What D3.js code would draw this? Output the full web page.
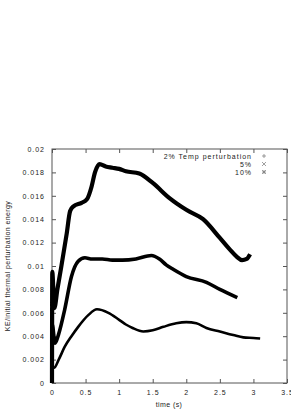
<!DOCTYPE html>
<html><head><meta charset="utf-8">
<script src="https://cdn.jsdelivr.net/npm/d3@7"></script>
<style>
html,body{margin:0;padding:0;background:#fff;}
svg text{font-family:"Liberation Sans",Arial,sans-serif;font-size:7px;letter-spacing:1px;fill:#222;}
svg text.title{letter-spacing:0.4px;}
</style></head>
<body>
<svg id="c" width="291" height="416"></svg>
<script>
// ---- data ----
const xTicks = [0, 0.5, 1, 1.5, 2, 2.5, 3, 3.5];
const xTickLabels = ["0", "0.5", "1", "1.5", "2", "2.5", "3", "3.5"];
const yTicks = [0, 0.002, 0.004, 0.006, 0.008, 0.01, 0.012, 0.014, 0.016, 0.018, 0.02];
const yTickLabels = ["0", "0.002", "0.004", "0.006", "0.008", "0.01", "0.012", "0.014", "0.016", "0.018", "0.02"];
const seriesNames = ["2% Temp perturbation", "5%", "10%"];

const t2 = [0, 0.004, 0.03, 0.1, 0.19, 0.29, 0.39, 0.54, 0.67, 0.84, 1.0, 1.1, 1.2, 1.36, 1.5, 1.66, 1.85, 2.0, 2.15, 2.3, 2.5, 2.7, 2.85, 3.0, 3.1];
const v2 = [0, 0.0014, 0.0013, 0.0020, 0.0031, 0.0040, 0.0048, 0.0058, 0.0063, 0.0060, 0.0054, 0.0050, 0.0047, 0.0044, 0.0045, 0.0048, 0.0051, 0.0052, 0.0051, 0.0047, 0.0044, 0.0041, 0.0039, 0.00385, 0.0038];

const t5 = [0, 0.004, 0.045, 0.1, 0.19, 0.29, 0.39, 0.49, 0.6, 0.75, 0.9, 1.05, 1.25, 1.48, 1.6, 1.7, 1.81, 2.0, 2.3, 2.5, 2.76];
const v5 = [0, 0.0050, 0.0034, 0.0042, 0.0063, 0.0091, 0.0104, 0.0107, 0.0106, 0.0106, 0.0105, 0.0105, 0.0106, 0.0109, 0.0106, 0.0101, 0.0097, 0.0091, 0.0086, 0.0080, 0.0073];

const t10 = [0, 0.004, 0.035, 0.08, 0.14, 0.22, 0.27, 0.32, 0.44, 0.52, 0.59, 0.64, 0.71, 0.8, 0.9, 1.0, 1.1, 1.3, 1.5, 1.75, 2.0, 2.25, 2.5, 2.65, 2.75, 2.83, 2.9, 2.95];
const v10 = [0, 0.0095, 0.0064, 0.0080, 0.0100, 0.0128, 0.0147, 0.0151, 0.0154, 0.0157, 0.0168, 0.0180, 0.0187, 0.0185, 0.0184, 0.0183, 0.0181, 0.0179, 0.0171, 0.0158, 0.0148, 0.0140, 0.0124, 0.0114, 0.0108, 0.0105, 0.0106, 0.0110];

// ---- layout ----
const L = 52, R = 287, T = 149, B = 383;
const svg = d3.select("#c");
const x = d3.scaleLinear().domain([0, 3.5]).range([L, R]);
const y = d3.scaleLinear().domain([0, 0.02]).range([B, T]);

// frame
svg.append("rect").attr("x", L).attr("y", T).attr("width", R - L).attr("height", B - T)
  .attr("fill", "none").attr("stroke", "#555").attr("stroke-width", 1);

const tk = 4;
const gx = svg.append("g").attr("transform", `translate(0,${B})`)
  .call(d3.axisBottom(x).tickValues(xTicks).tickFormat((d, i) => xTickLabels[i]).tickSizeInner(-tk).tickSizeOuter(0).tickPadding(7));
const gxt = svg.append("g").attr("transform", `translate(0,${T})`)
  .call(d3.axisTop(x).tickValues(xTicks).tickFormat("").tickSizeInner(-tk).tickSizeOuter(0));
const gy = svg.append("g").attr("transform", `translate(${L},0)`)
  .call(d3.axisLeft(y).tickValues(yTicks).tickFormat((d, i) => yTickLabels[i]).tickSizeInner(-tk).tickSizeOuter(0).tickPadding(7));
const gyr = svg.append("g").attr("transform", `translate(${R},0)`)
  .call(d3.axisRight(y).tickValues(yTicks).tickFormat("").tickSizeInner(-tk).tickSizeOuter(0));
[gx, gxt, gy, gyr].forEach(g => {
  g.select(".domain").remove();
  g.selectAll("line").attr("stroke", "#555");
  g.selectAll("text").attr("font-family", null).attr("font-size", null).attr("fill", "#222");
});

// titles
svg.append("text").attr("class", "title").attr("x", 169).attr("y", 407).attr("text-anchor", "middle").text("time (s)");
svg.append("text").attr("class", "title").attr("transform", `translate(10,${(T + B) / 2}) rotate(-90)`)
  .attr("text-anchor", "middle").text("KE/initial thermal perturbation energy");

// series
const line = d3.line().x(d => x(d[0])).y(d => y(d[1])).curve(d3.curveMonotoneX);
const series = [
  {t: t2, v: v2, w: 2.6},
  {t: t5, v: v5, w: 3.6},
  {t: t10, v: v10, w: 4.2}
];
series.forEach(s => {
  const pts = s.t.map((t, i) => [t, s.v[i]]);
  svg.append("path").attr("d", line(pts)).attr("fill", "none")
    .attr("stroke", "#000").attr("stroke-width", s.w)
    .attr("stroke-linejoin", "round").attr("stroke-linecap", "butt");
});

// legend
const lgY = [156, 164, 172];
const mk = 264;
seriesNames.forEach((n, i) => {
  svg.append("text").attr("x", 252).attr("y", lgY[i] + 2.5).attr("text-anchor", "end").text(n);
  const g = svg.append("g").attr("stroke", "#777").attr("stroke-width", 0.7);
  const s = 2;
  if (i === 0 || i === 2) {
    g.append("line").attr("x1", mk - s).attr("x2", mk + s).attr("y1", lgY[i]).attr("y2", lgY[i]);
    g.append("line").attr("x1", mk).attr("x2", mk).attr("y1", lgY[i] - s).attr("y2", lgY[i] + s);
  }
  if (i === 1 || i === 2) {
    g.append("line").attr("x1", mk - s).attr("x2", mk + s).attr("y1", lgY[i] - s).attr("y2", lgY[i] + s);
    g.append("line").attr("x1", mk - s).attr("x2", mk + s).attr("y1", lgY[i] + s).attr("y2", lgY[i] - s);
  }
});
</script>
</body></html>
